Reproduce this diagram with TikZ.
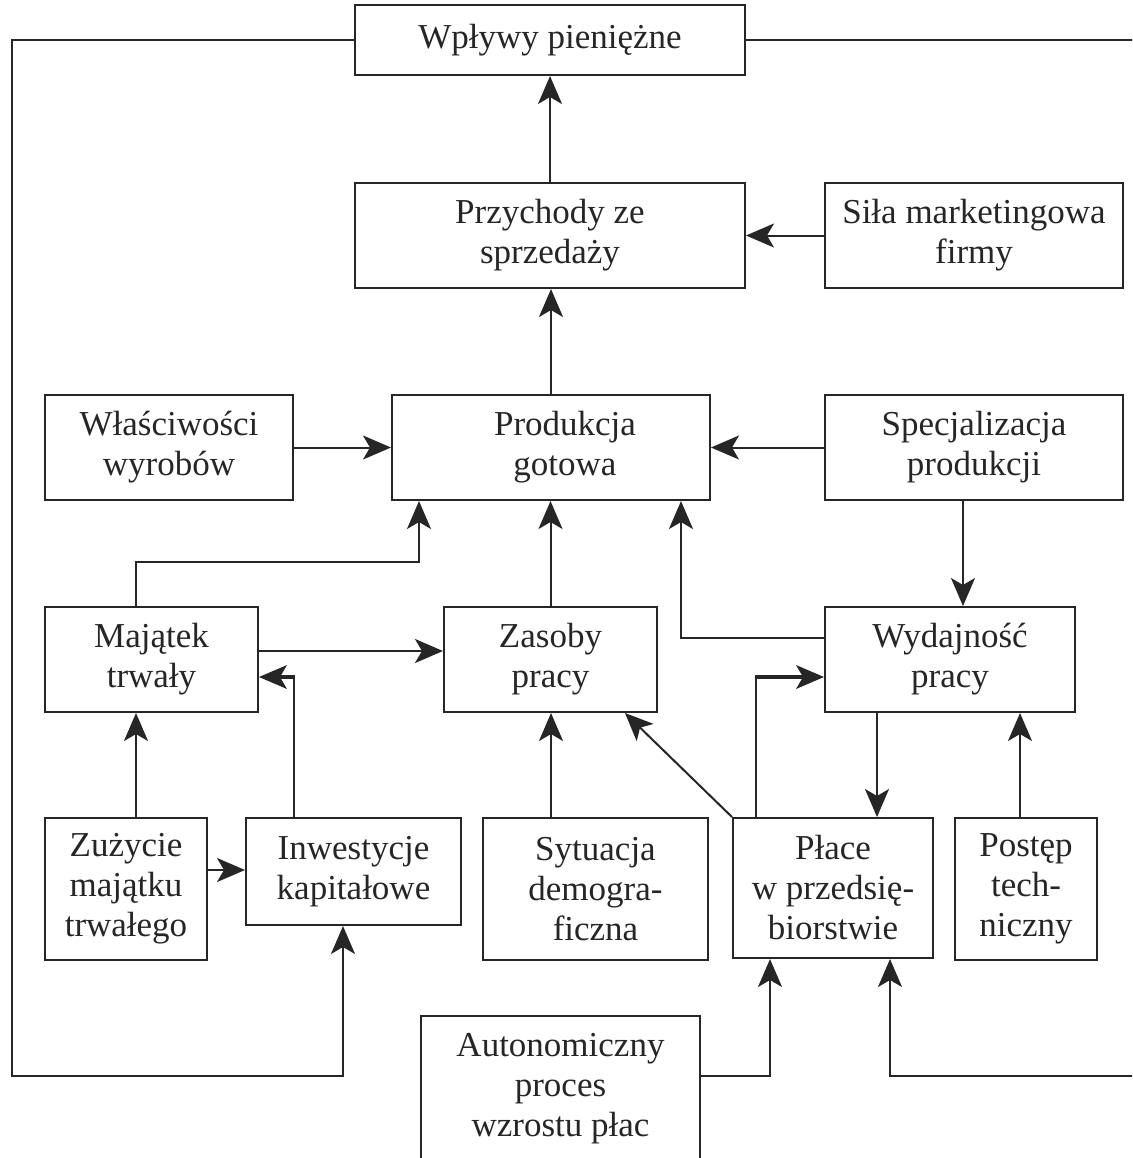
\documentclass[tikz,border=0pt]{standalone}
\usepackage{fontspec}
\setmainfont{Liberation Serif}
\usetikzlibrary{arrows.meta,calc}
\begin{document}
\begin{tikzpicture}[x=0.5pt,y=-0.5pt,
  box/.style={draw=black!85, line width=1pt, align=center, inner sep=0pt,
    font=\fontsize{17.5}{20}\selectfont, text=black!85},
  arr/.style={draw=black!85, line width=1pt, -{Stealth[length=14pt,width=12pt,inset=3.5pt]}},
  ln/.style={draw=black!85, line width=1pt},
  thk/.style={draw=black!85, line width=2pt, -{Stealth[length=14pt,width=12pt,inset=3.5pt,line width=0pt]}}]
\useasboundingbox (0,0) rectangle (1132,1158);
\clip (0,0) rectangle (1132,1158);
\fill[white] (0,0) rectangle (1132,1158);
% boxes
\node[box, minimum width=195pt, minimum height=35pt] (wp) at (550,40) {Wpływy pieniężne};
\node[box, minimum width=195pt, minimum height=52.5pt] (prz) at (550,235.5) {Przychody ze\\sprzedaży};
\node[box, minimum width=149pt, minimum height=52.5pt] (sila) at (974,235.5) {Siła marketingowa\\firmy};
\node[box, minimum width=124pt, minimum height=52.5pt] (wlas) at (169,447.5) {Właściwości\\wyrobów};
\node[box, minimum width=159pt, minimum height=52.5pt] (prod) at (551,447.5) {\hspace*{14pt}Produkcja\\\hspace*{14pt}gotowa};
\node[box, minimum width=149pt, minimum height=52.5pt] (spec) at (974,447.5) {Specjalizacja\\produkcji};
\node[box, minimum width=106.5pt, minimum height=52.5pt] (maj) at (151.5,659.5) {Majątek\\trwały};
\node[box, minimum width=106.5pt, minimum height=52.5pt] (zas) at (550.5,659.5) {Zasoby\\pracy};
\node[box, minimum width=125pt, minimum height=52.5pt] (wyd) at (950,659.5) {Wydajność\\pracy};
\node[box, minimum width=81pt, minimum height=71pt] (zuz) at (126,889) {Zużycie\\majątku\\trwałego};
\node[box, minimum width=107.5pt, minimum height=53.5pt] (inw) at (353.5,871.5) {Inwestycje\\kapitałowe};
\node[box, minimum width=112.5pt, minimum height=71pt] (syt) at (595.5,889) {Sytuacja\\demogra-\\ficzna};
\node[box, minimum width=100pt, minimum height=70pt] (place) at (833,888) {Płace\\w przedsię-\\biorstwie};
\node[box, minimum width=71pt, minimum height=71pt] (post) at (1026,889) {Postęp\\tech-\\niczny};
\node[box, minimum width=139.5pt, minimum height=73pt] (auto) at (560.5,1089) {Autonomiczny\\proces\\wzrostu płac};
% connectors
\draw[arr] (prz.north) -- (wp.south);
\draw[arr] (sila.west) -- (prz.east);
\draw[arr] (prod.north) -- (prod.north |- prz.south);
\draw[arr] (wlas.east) -- (prod.west);
\draw[arr] (spec.west) -- (prod.east);
\draw[arr] (963,0 |- spec.south) -- (963,0 |- wyd.north);
\draw[arr] (zas.north) -- (zas.north |- prod.south);
\draw[arr] (136,0 |- maj.north) -- (136,562) -| (419,0 |- prod.south);
\draw[arr] (maj.east |- 0,651) -- (zas.west |- 0,651);
\draw[arr] (wyd.west |- 0,638) -| (681,0 |- prod.south);
\draw[arr] (136,0 |- zuz.north) -- (136,0 |- maj.south);
\draw[arr] (zuz.east |- 0,870) -- (inw.west |- 0,870);
\draw[ln] (294,0 |- inw.north) -- (294,677);
\draw[thk] (295,677) -- (maj.east |- 0,677);
\draw[arr] (551,0 |- syt.north) -- (551,0 |- zas.south);
\draw[arr] (place.north west) -- (625,0 |- zas.south);
\draw[ln] (756,0 |- place.north) -- (756,677);
\draw[thk] (755,677) -- (wyd.west |- 0,677);
\draw[arr] (877,0 |- wyd.south) -- (877,0 |- place.north);
\draw[arr] (1020,0 |- post.north) -- (1020,0 |- wyd.south);
\draw[arr] (auto.east |- 0,1076) -| (770,0 |- place.south);
\draw[arr] (wp.east) -| (1145,1076) -| (890,0 |- place.south);
\draw[arr] (wp.west) -| (12,1076) -| (343,0 |- inw.south);
\end{tikzpicture}
\end{document}
